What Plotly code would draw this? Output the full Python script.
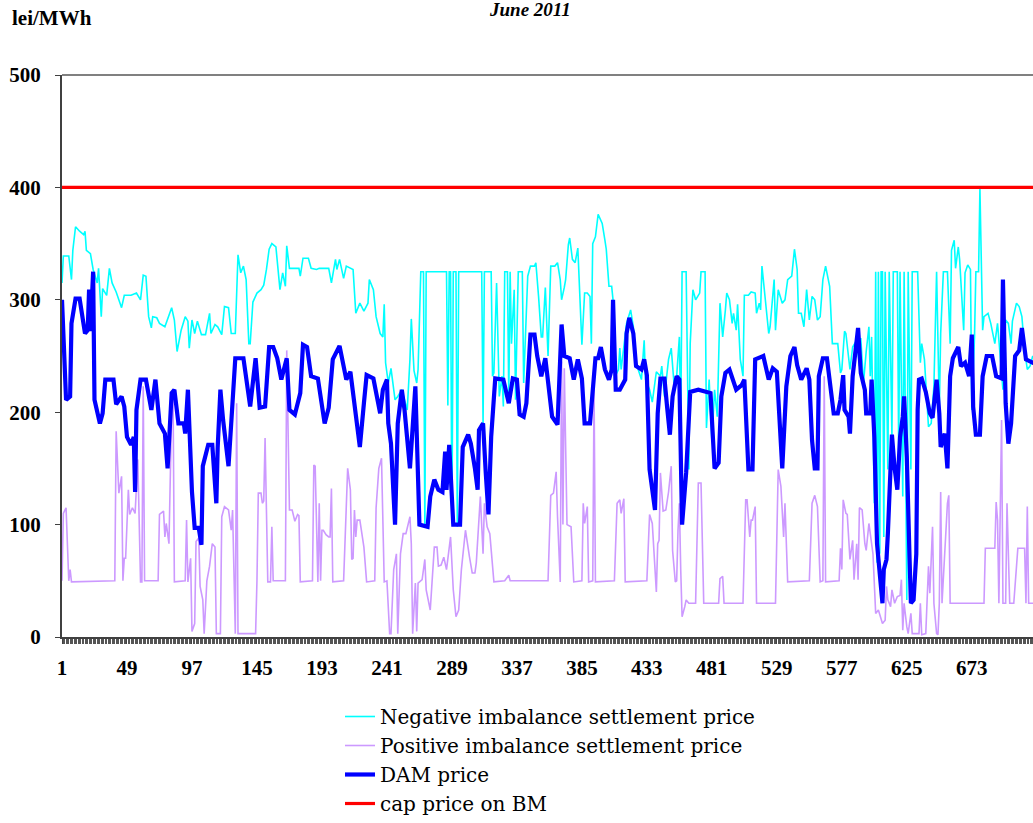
import plotly.graph_objects as go

# hourly prices for June 2011 as (hour, lei/MWh) breakpoints
dam_points = [
    (1, 300), (4, 211), (7, 214), (8, 279), (11, 301), (14, 301), (18, 270), (20, 273),
    (21, 309), (22, 272), (24, 325), (25, 211), (29, 190), (31, 199), (33, 229), (39, 229),
    (41, 207), (45, 214), (47, 205), (49, 178), (52, 171), (54, 178), (55, 129), (56, 202),
    (59, 229), (63, 229), (67, 202), (70, 229), (73, 190), (77, 181), (79, 150), (82, 217),
    (84, 220), (87, 190), (91, 190), (92, 181), (94, 220), (97, 129), (99, 97), (102, 97),
    (104, 82), (105, 152), (109, 171), (112, 171), (115, 119), (116, 169), (118, 220), (120, 193),
    (124, 152), (126, 190), (129, 248), (135, 248), (140, 205), (144, 248), (147, 204), (151, 205),
    (154, 258), (157, 258), (160, 248), (163, 229), (167, 248), (169, 202), (173, 198), (177, 217),
    (179, 260), (182, 258), (185, 232), (190, 230), (193, 202), (195, 190), (198, 204), (201, 247),
    (206, 259), (209, 241), (211, 229), (214, 236), (217, 205), (219, 184), (221, 169), (224, 208),
    (226, 233), (231, 230), (235, 202), (236, 199), (238, 220), (241, 229), (242, 190), (244, 172),
    (247, 100), (249, 190), (252, 220), (254, 202), (258, 150), (260, 190), (262, 223), (265, 100),
    (271, 98), (273, 125), (276, 140), (279, 131), (282, 129), (284, 165), (285, 131), (287, 171),
    (288, 150), (290, 100), (295, 100), (297, 169), (301, 180), (303, 172), (306, 150), (308, 131),
    (309, 184), (312, 190), (314, 146), (316, 109), (318, 178), (321, 230), (327, 229), (331, 208),
    (334, 230), (337, 229), (339, 198), (342, 196), (344, 208), (347, 269), (350, 269), (352, 250),
    (355, 232), (358, 248), (363, 196), (367, 189), (370, 278), (372, 250), (376, 248), (379, 229),
    (382, 247), (385, 230), (387, 190), (391, 190), (395, 248), (397, 248), (399, 258), (402, 238),
    (405, 229), (407, 238), (408, 300), (410, 220), (413, 220), (417, 229), (418, 270), (420, 284),
    (423, 270), (425, 241), (429, 238), (431, 247), (433, 233), (435, 149), (439, 113), (441, 199),
    (443, 230), (446, 230), (448, 204), (450, 180), (452, 214), (455, 232), (457, 229), (459, 100),
    (462, 146), (465, 218), (471, 220), (477, 218), (480, 217), (483, 150), (486, 155), (488, 214),
    (491, 235), (494, 238), (499, 220), (503, 224), (505, 229), (508, 149), (511, 149), (513, 247),
    (519, 250), (523, 229), (526, 239), (529, 236), (531, 196), (533, 150), (536, 223), (539, 250),
    (542, 258), (544, 242), (547, 229), (551, 239), (553, 229), (555, 175), (557, 150), (559, 150),
    (560, 232), (563, 248), (566, 248), (568, 229), (571, 199), (574, 199), (576, 211), (578, 233),
    (579, 202), (582, 196), (583, 181), (585, 232), (587, 255), (589, 275), (591, 235), (594, 220),
    (595, 199), (598, 199), (599, 229), (601, 178), (603, 83), (605, 60), (607, 30), (608, 60),
    (610, 69), (611, 92), (612, 119), (614, 180), (616, 150), (618, 131), (620, 178), (622, 196),
    (623, 214), (625, 160), (627, 71), (628, 30), (630, 33), (632, 74), (633, 202), (634, 229),
    (636, 230), (639, 218), (642, 199), (644, 195), (647, 229), (649, 199), (650, 169), (653, 181),
    (655, 150), (657, 232), (659, 248), (663, 258), (665, 241), (668, 244), (671, 232), (673, 269),
    (674, 205), (676, 180), (679, 180), (681, 232), (684, 250), (688, 250), (691, 232), (695, 230),
    (696, 318), (698, 208), (700, 172), (702, 190), (705, 250), (708, 255), (710, 275), (713, 247),
    (718, 244), (720, 245),
]

neg_points = [
    (1, 315), (2, 339), (6, 339), (8, 318), (9, 344), (11, 365), (14, 361), (17, 358),
    (18, 361), (19, 344), (22, 341), (24, 327), (27, 315), (28, 328), (30, 285), (31, 310),
    (34, 304), (36, 328), (38, 315), (41, 307), (45, 293), (47, 304), (52, 304), (56, 306),
    (59, 300), (61, 322), (63, 321), (65, 285), (67, 275), (68, 285), (71, 284), (73, 279),
    (77, 276), (82, 293), (84, 282), (86, 254), (89, 273), (92, 285), (94, 281), (95, 257),
    (97, 282), (99, 270), (101, 281), (104, 269), (107, 269), (110, 288), (111, 270), (114, 278),
    (116, 276), (119, 269), (121, 294), (124, 293), (126, 270), (129, 270), (131, 340), (133, 324),
    (135, 330), (137, 318), (139, 261), (140, 261), (142, 298), (145, 306), (148, 309), (150, 313),
    (152, 327), (154, 345), (156, 350), (159, 347), (162, 309), (164, 324), (166, 312), (167, 348),
    (169, 328), (176, 328), (177, 321), (179, 337), (183, 337), (185, 328), (189, 327), (191, 328),
    (198, 328), (200, 315), (203, 336), (204, 327), (206, 336), (209, 319), (211, 330), (216, 327),
    (218, 288), (221, 297), (224, 290), (227, 297), (228, 318), (231, 309), (233, 285), (236, 270),
    (238, 267), (239, 296), (240, 244), (242, 226), (244, 239), (247, 211), (249, 214), (252, 220),
    (254, 211), (256, 202), (258, 247), (259, 283), (261, 237), (263, 226), (264, 238), (266, 325),
    (268, 325), (269, 98), (270, 325), (285, 325), (286, 206), (287, 325), (288, 325), (289, 101),
    (290, 325), (292, 325), (293, 98), (294, 325), (311, 325), (312, 190), (313, 325), (318, 325),
    (319, 232), (320, 235), (322, 315), (324, 214), (326, 232), (327, 205), (328, 325), (330, 325),
    (331, 214), (332, 325), (333, 261), (335, 309), (336, 211), (338, 325), (341, 325), (342, 226),
    (345, 321), (347, 330), (350, 330), (351, 333), (353, 303), (355, 267), (356, 267), (358, 311),
    (360, 250), (362, 330), (365, 330), (367, 333), (369, 318), (370, 300), (372, 311), (373, 318),
    (375, 349), (376, 355), (378, 336), (380, 333), (382, 346), (384, 288), (385, 260), (387, 306),
    (389, 306), (391, 303), (392, 261), (393, 350), (395, 356), (397, 376), (400, 368), (402, 353),
    (403, 345), (405, 312), (407, 312), (408, 300), (410, 233), (412, 238), (413, 257), (414, 238),
    (416, 261), (418, 279), (421, 291), (423, 276), (425, 244), (429, 229), (431, 264), (432, 229),
    (435, 220), (437, 209), (440, 236), (443, 232), (444, 241), (446, 214), (449, 247), (451, 257),
    (453, 226), (455, 232), (457, 267), (458, 190), (459, 325), (462, 325), (464, 149), (465, 261),
    (467, 309), (469, 300), (472, 306), (473, 325), (476, 325), (477, 186), (479, 229), (481, 175),
    (483, 220), (485, 196), (487, 297), (489, 267), (491, 291), (492, 306), (494, 300), (496, 279),
    (497, 288), (499, 273), (500, 296), (502, 247), (504, 232), (505, 304), (508, 304), (510, 307),
    (513, 306), (514, 288), (516, 297), (517, 291), (518, 330), (520, 303), (523, 270), (524, 276),
    (527, 318), (528, 273), (530, 309), (533, 297), (535, 300), (537, 318), (540, 321), (542, 345),
    (544, 327), (545, 288), (547, 288), (549, 276), (551, 309), (553, 282), (555, 303), (557, 300),
    (559, 282), (561, 285), (563, 318), (565, 330), (568, 312), (570, 261), (574, 261), (576, 235),
    (577, 238), (579, 272), (580, 270), (583, 238), (585, 258), (588, 264), (590, 241), (591, 266),
    (593, 226), (595, 254), (597, 276), (598, 232), (599, 267), (601, 119), (602, 325), (603, 66),
    (604, 325), (605, 74), (606, 325), (607, 325), (608, 89), (609, 325), (611, 149), (612, 325),
    (614, 178), (615, 325), (618, 325), (619, 164), (620, 325), (622, 125), (623, 325), (625, 33),
    (626, 325), (628, 149), (629, 325), (633, 325), (635, 244), (636, 261), (638, 247), (641, 187),
    (643, 190), (645, 223), (647, 325), (649, 202), (650, 270), (652, 325), (655, 325), (657, 261),
    (658, 344), (660, 353), (661, 328), (663, 347), (664, 336), (667, 273), (668, 324), (670, 331),
    (672, 327), (673, 202), (675, 267), (676, 325), (678, 325), (679, 399), (681, 273), (682, 285),
    (685, 288), (687, 279), (690, 261), (692, 279), (694, 250), (696, 220), (698, 282), (700, 279),
    (702, 261), (703, 281), (706, 297), (708, 294), (710, 285), (712, 255), (714, 238), (716, 241),
    (718, 250), (720, 245),
]

pos_points = [
    (1, 50), (2, 110), (4, 115), (6, 50), (7, 60), (8, 49), (40, 50), (41, 183),
    (43, 128), (45, 143), (46, 50), (47, 70), (48, 70), (50, 131), (51, 109), (53, 115),
    (55, 110), (57, 158), (59, 49), (60, 49), (61, 223), (62, 50), (72, 50), (73, 109),
    (76, 112), (77, 89), (78, 101), (80, 83), (82, 202), (83, 220), (84, 49), (92, 50),
    (93, 104), (94, 49), (96, 70), (97, 5), (99, 12), (100, 85), (102, 88), (103, 45),
    (105, 33), (106, 3), (108, 50), (110, 63), (112, 83), (114, 80), (115, 3), (118, 3),
    (119, 107), (121, 116), (124, 113), (126, 95), (127, 113), (129, 3), (130, 208), (131, 3),
    (144, 3), (145, 50), (146, 128), (148, 128), (149, 119), (150, 121), (151, 177), (153, 49),
    (155, 49), (156, 98), (157, 50), (166, 50), (167, 255), (169, 113), (171, 113), (173, 103),
    (175, 109), (176, 108), (177, 49), (186, 50), (187, 153), (188, 152), (190, 49), (191, 119),
    (192, 50), (193, 95), (194, 95), (196, 91), (198, 89), (199, 89), (200, 132), (201, 49),
    (209, 50), (211, 131), (212, 150), (214, 131), (215, 69), (216, 70), (217, 113), (218, 89),
    (219, 104), (221, 104), (224, 80), (226, 49), (232, 50), (233, 115), (235, 150), (237, 159),
    (239, 49), (241, 50), (243, 3), (244, 3), (246, 60), (248, 74), (249, 3), (251, 74),
    (253, 92), (255, 92), (258, 107), (259, 83), (260, 3), (262, 48), (263, 5), (264, 48),
    (267, 51), (269, 69), (270, 42), (273, 24), (276, 80), (278, 80), (279, 63), (281, 64),
    (283, 71), (285, 60), (288, 89), (290, 42), (292, 18), (294, 24), (296, 60), (299, 95),
    (300, 86), (302, 71), (304, 57), (306, 57), (307, 66), (309, 110), (310, 125), (312, 74),
    (313, 119), (315, 98), (317, 92), (320, 49), (328, 50), (331, 55), (332, 50), (360, 50),
    (362, 126), (364, 128), (366, 147), (367, 107), (369, 49), (370, 245), (371, 100), (372, 239),
    (374, 100), (377, 98), (379, 49), (385, 50), (386, 119), (387, 101), (389, 116), (390, 49),
    (393, 50), (394, 220), (395, 49), (409, 50), (411, 119), (413, 122), (414, 110), (416, 123),
    (417, 49), (433, 50), (435, 109), (437, 101), (438, 79), (439, 69), (440, 40), (441, 83),
    (442, 86), (443, 146), (445, 112), (447, 113), (449, 129), (451, 152), (452, 77), (454, 49),
    (455, 50), (456, 95), (457, 119), (458, 60), (459, 18), (461, 27), (462, 33), (464, 30),
    (469, 30), (471, 137), (473, 137), (475, 30), (486, 30), (487, 52), (489, 54), (490, 30),
    (504, 30), (506, 122), (507, 122), (509, 89), (510, 104), (511, 104), (513, 116), (514, 30),
    (528, 30), (530, 149), (532, 134), (534, 89), (535, 119), (537, 49), (553, 50), (555, 119),
    (557, 126), (559, 116), (561, 49), (563, 50), (564, 232), (565, 49), (575, 50), (576, 79),
    (577, 60), (578, 122), (580, 110), (581, 109), (583, 69), (585, 86), (586, 51), (588, 83),
    (589, 51), (590, 115), (592, 113), (594, 83), (595, 77), (597, 101), (599, 80), (600, 74),
    (602, 21), (604, 24), (607, 12), (609, 15), (610, 45), (611, 33), (613, 27), (614, 42),
    (616, 30), (618, 36), (620, 37), (621, 51), (622, 6), (623, 30), (625, 9), (626, 3),
    (628, 21), (629, 3), (634, 3), (635, 30), (636, 2), (639, 3), (641, 63), (642, 39),
    (644, 98), (645, 30), (647, 3), (648, 2), (649, 30), (650, 129), (651, 30), (654, 89),
    (655, 119), (656, 126), (657, 30), (682, 30), (683, 79), (690, 79), (691, 120), (692, 104),
    (693, 30), (695, 193), (696, 30), (698, 30), (699, 119), (701, 30), (704, 30), (707, 79),
    (712, 79), (713, 30), (714, 116), (715, 30), (720, 30),
]

cap_hours = [1, 720]
cap_price = [400, 400]

tick_hours = list(range(1, 721, 48))
tick_labels = [str(h) for h in tick_hours]

SERIF = "Liberation Serif"


def split(points):
    return [p[0] for p in points], [p[1] for p in points]


neg_x, neg_y = split(neg_points)
pos_x, pos_y = split(pos_points)
dam_x, dam_y = split(dam_points)

fig = go.Figure()
fig.add_trace(go.Scatter(x=neg_x, y=neg_y, mode="lines", name="Negative imbalance settlement price",
                         line=dict(color="#00FFFF", width=1.6)))
fig.add_trace(go.Scatter(x=pos_x, y=pos_y, mode="lines", name="Positive imbalance settlement price",
                         line=dict(color="#CC99FF", width=1.6)))
fig.add_trace(go.Scatter(x=dam_x, y=dam_y, mode="lines", name="DAM price",
                         line=dict(color="#0000FF", width=4.2)))
fig.add_trace(go.Scatter(x=cap_hours, y=cap_price, mode="lines", name="cap price on BM",
                         line=dict(color="#FF0000", width=3.2)))

axis_font = dict(family=SERIF, size=21, color="black", weight="bold")

fig.update_layout(
    width=1033,
    height=823,
    margin=dict(l=62, r=0, t=75, b=186),
    paper_bgcolor="white",
    plot_bgcolor="white",
    showlegend=True,
    legend=dict(
        x=0.2863, xanchor="left", y=-0.331, yanchor="bottom",
        font=dict(family="DejaVu Serif", size=20, color="black"),
        bgcolor="rgba(0,0,0,0)", tracegroupgap=0,
    ),
    xaxis=dict(
        range=[1, 718.2], tickvals=tick_hours, ticktext=tick_labels,
        showgrid=False, zeroline=False, showline=True, linecolor="#404040", linewidth=2,
        ticks="outside", ticklen=5, tickcolor="#404040", tickfont=axis_font,
        ticklabelstandoff=6,
        minor=dict(ticks="outside", dtick=1, tick0=1, ticklen=5, tickcolor="#555555",
                   tickwidth=1, showgrid=False),
    ),
    yaxis=dict(
        range=[0, 500], tickvals=[0, 100, 200, 300, 400, 500], showgrid=False, zeroline=False,
        showline=True, linecolor="#404040", linewidth=2, ticks="outside", ticklen=5,
        tickcolor="#404040", tickfont=axis_font, ticklabelstandoff=10,
    ),
    shapes=[dict(type="line", xref="paper", yref="paper", x0=0, x1=1, y0=1, y1=1,
                 line=dict(color="#808080", width=2))],
    annotations=[
        dict(text="June 2011", xref="paper", yref="paper", x=0.482, y=1.1157,
             xanchor="center", yanchor="middle", showarrow=False,
             font=dict(family=SERIF, size=19, color="black", weight="bold", style="italic")),
        dict(text="lei/MWh", xref="paper", yref="paper", x=-0.054, y=1.1014,
             xanchor="left", yanchor="middle", showarrow=False,
             font=dict(family=SERIF, size=21, color="black", weight="bold")),
    ],
)

fig.write_html("out.html", config={"displayModeBar": False},
               post_script="document.body.style.margin = '0';")
